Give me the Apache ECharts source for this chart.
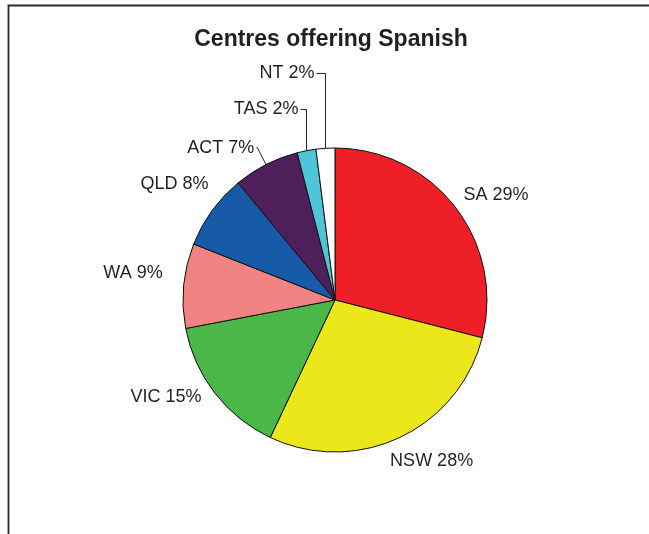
<!DOCTYPE html>
<html>
<head>
<meta charset="utf-8">
<title>Centres offering Spanish</title>
<script src="https://cdn.jsdelivr.net/npm/echarts@6/dist/echarts.min.js"></script>
<style>
  html, body { margin: 0; padding: 0; background: #ffffff; }
  #chart { width: 649px; height: 534px; }
</style>
</head>
<body>
<div id="chart"></div>
<script>
// Share of centres offering Spanish, by state / territory (percent)
const regions = ['SA', 'NSW', 'VIC', 'WA', 'QLD', 'ACT', 'TAS', 'NT'];
const shares = [29, 28, 15, 9, 8, 7, 2, 2];

// Slice fills, in the same order as the regions
const sliceColors = ['#EE1F26', '#ECE71A', '#4BB748', '#F28383', '#175BA8', '#4E1F5A', '#4EC6D8', '#FFFFFF'];

// Leader lines only for the narrow slices at the top; other labels sit beside their slice
const leaderLines = {
  ACT: { show: true, length: 19, length2: 1 },
  TAS: { show: true, length: 42, length2: 6 },
  NT: { show: true, length: 75, length2: 9 }
};
const plainLine = { show: false, length: 8, length2: 0 };
// Leader lines that rise straight up from the slice before turning towards the label
const verticalLeaders = { TAS: true, NT: true };

// Small shifts for the labels that have no leader line
const labelNudge = {
  SA: [0, -7],
  NSW: [-15, 16],
  VIC: [-5, -1],
  WA: [-11, -12],
  QLD: [5, -22]
};

const FONT = '"Liberation Sans", Arial, Helvetica, sans-serif';
const TEXT = '#231F20';
const LABEL_GAP = 2;

const chart = echarts.init(document.getElementById('chart'), null, { renderer: 'canvas' });

const pieData = regions.map((name, i) => ({
  name: name,
  value: shares[i],
  itemStyle: { color: sliceColors[i] },
  labelLine: leaderLines[name] || plainLine
}));

chart.setOption({
  animation: false,
  backgroundColor: '#ffffff',
  title: {
    text: 'Centres offering Spanish',
    left: 326,
    top: 23,
    textAlign: 'center',
    textStyle: {
      fontFamily: FONT,
      fontWeight: 'bold',
      fontSize: 23,
      color: TEXT
    }
  },
  graphic: [{
    type: 'rect',
    shape: { x: 8.5, y: 5.5, width: 700, height: 600 },
    style: { fill: 'none', stroke: '#2a2a2a', lineWidth: 1.8 },
    silent: true
  }],
  series: [{
    type: 'pie',
    center: [335, 300],
    radius: 152,
    startAngle: 90,
    clockwise: true,
    avoidLabelOverlap: false,
    data: pieData,
    itemStyle: { borderColor: '#111111', borderWidth: 1 },
    label: {
      show: true,
      position: 'outside',
      formatter: '{b} {c}%',
      fontFamily: FONT,
      fontSize: 18,
      color: TEXT,
      distanceToLabelLine: LABEL_GAP
    },
    labelLine: {
      lineStyle: { color: TEXT, width: 1 }
    },
    labelLayout: function (params) {
      const name = regions[params.dataIndex];
      const nudge = labelNudge[name];
      if (nudge) {
        return { dx: nudge[0], dy: nudge[1] };
      }
      const pts = params.labelLinePoints;
      if (verticalLeaders[name] && pts && pts.length === 3) {
        const len2 = leaderLines[name].length2;
        const x0 = pts[0][0];
        const yTop = pts[1][1];
        const knee = [x0, yTop];
        const end = [x0 - len2, yTop];
        return {
          dx: end[0] - pts[2][0],
          labelLinePoints: [pts[0], knee, end]
        };
      }
      return {};
    },
    emphasis: { disabled: true }
  }]
});
</script>
</body>
</html>
